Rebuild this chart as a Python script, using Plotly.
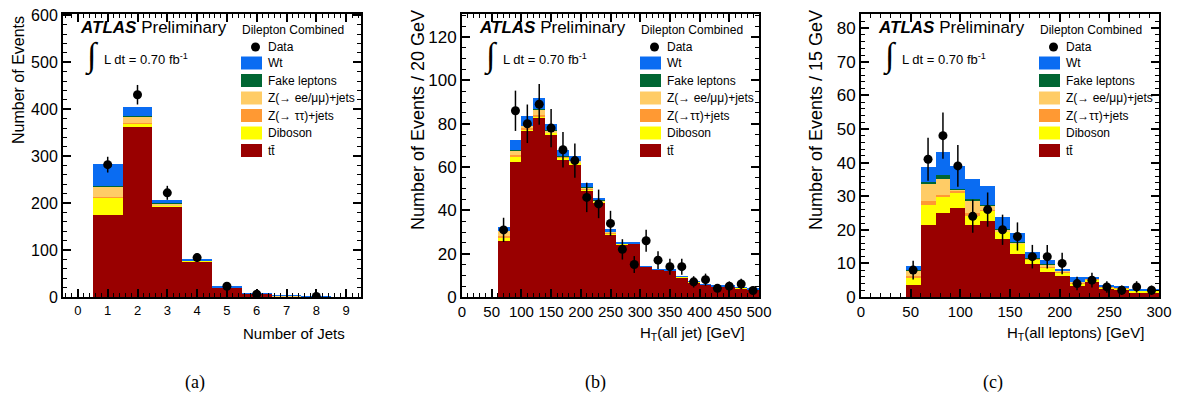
import plotly.graph_objects as go

# The page body has an 8px margin: the figure is sized so it fits the
# 1180x397 window starting at (8, 8); coordinates below are window pixels.
OFF = 8
W, H = 1180 - OFF, 397 - OFF

# ---------------- data ----------------
# Panel (a): number of jets
a_centers = [1, 2, 3, 4, 5, 6, 7, 8, 9]
a_tt   = [174, 362, 193, 76, 20, 7, 2, 0.8, 0]
a_dib  = [37, 7, 2, 1, 0.5, 0.2, 0.1, 0, 0]
a_ztt  = [3, 2, 1, 0.5, 0.1, 0.1, 0, 0, 0]
a_zee  = [22, 13, 3, 1, 0.2, 0.1, 0.1, 0, 0]
a_fake = [1, 1, 0.5, 0.2, 0.1, 0, 0, 0, 0]
a_wt   = [47, 20, 6.5, 1.3, 0.6, 0.3, 0.1, 0.1, 0]
a_data = [282, 431, 222, 84, 23, 6, None, 1, None]
a_err  = [16.8, 20.8, 14.9, 9.2, 4.8, 2.4, 0, 1.0, 0]

# Panel (b): HT(all jet), 20 GeV bins 60-500
b_centers = [70, 90, 110, 130, 150, 170, 190, 210, 230, 250, 270, 290,
             310, 330, 350, 370, 390, 410, 430, 450, 470, 490]
b_tt   = [26, 62.5, 76.7, 82.8, 75.1, 63.7, 61.4, 49.1, 43.7, 29, 24.3, 24.5,
          14.0, 12.6, 12.3, 9.2, 6.9, 5.8, 4.9, 4.9, 4.1, 3.6]
b_dib  = [1.4, 2.3, 0.7, 0.6, 0.7, 0.8, 0.5, 0.6, 0.3, 0.4, 0.2, 0.1,
          0.1, 0.1, 0.1, 0.1, 0.1, 0.1, 0.1, 0.1, 0.1, 0.05]
b_ztt  = [0.6, 0.6, 0.5, 0.6, 0.4, 0.2, 0.3, 0.3, 0.2, 0.2, 0.1, 0.1,
          0, 0, 0, 0, 0, 0, 0, 0, 0, 0]
b_zee  = [2.5, 2.2, 1.1, 2.4, 0.8, 0.3, 0.7, 0.7, 0.5, 0.6, 0.2, 0.2,
          0.1, 0.1, 0.05, 0.05, 0.05, 0.05, 0.05, 0.05, 0.05, 0.03]
b_fake = [0.2, 0.3, 0.2, 0.2, 0.1, 0.1, 0.1, 0.1, 0.1, 0.1, 0, 0,
          0, 0, 0, 0, 0, 0, 0, 0, 0, 0]
b_wt   = [1.8, 4.6, 4.4, 5.2, 2.9, 2.8, 2.1, 1.8, 0.8, 0.9, 0.2, 0.6,
          0.1, 0.1, 0.05, 0.05, 0.05, 0.05, 0.05, 0.05, 0.05, 0.02]
b_data = [31, 86, 80, 89, 78, 68, 63, 46, 43, 34, 22, 15, 26, 17, 14, 14,
          7, 8, 4, 5, 6, 3]
b_err  = [5.6, 9.3, 8.9, 9.4, 8.8, 8.2, 7.9, 6.8, 6.6, 5.8, 4.7, 3.9, 5.1,
          4.1, 3.7, 3.7, 2.6, 2.8, 2.0, 2.2, 2.4, 1.7]

# Panel (c): HT(all leptons), 15 GeV bins 45-300
c_centers = [52.5, 67.5, 82.5, 97.5, 112.5, 127.5, 142.5, 157.5, 172.5,
             187.5, 202.5, 217.5, 232.5, 247.5, 262.5, 277.5, 292.5]
c_tt   = [3.6, 21.4, 24.9, 26.4, 21.4, 22.6, 17.2, 12.8, 9.8, 7.5, 6.25,
          3.4, 4.6, 2.4, 2.1, 1.3, 1.1]
c_dib  = [2.0, 6.0, 5.0, 4.6, 2.8, 3.1, 2.2, 3.0, 1.4, 1.3, 1.15, 0.6,
          0.7, 0.5, 0.5, 0.5, 0.7]
c_ztt  = [0.65, 1.3, 0.4, 0.6, 0.7, 0.3, 0.2, 0.2, 0.2, 0.2, 0.1, 0.2,
          0.1, 0.1, 0.1, 0, 0]
c_zee  = [1.75, 5.1, 4.7, 0.4, 3.6, 1.2, 0.5, 0.3, 0.2, 0.8, 0.2, 0.4,
          0.1, 0.1, 0.1, 0.1, 0.1]
c_fake = [0.1, 0.5, 1.3, 0.1, 0.6, 0.1, 0.1, 0.1, 0.1, 0.1, 0, 0, 0, 0,
          0, 0, 0]
c_wt   = [1.1, 4.5, 6.7, 6.9, 6.1, 5.8, 3.7, 2.6, 1.8, 1.1, 0.6, 1.3, 0.4,
          0.3, 0.2, 0.3, 0.2]
c_data = [8, 41, 48, 39, 24, 26, 20, 18, 12, 12, 10, 4, 5, 3, 2, 3, 2]
c_err  = [2.8, 6.4, 6.9, 6.2, 4.9, 5.1, 4.5, 4.2, 3.5, 3.5, 3.2, 2.0, 2.2,
          1.7, 1.4, 1.7, 1.4]

COLORS = {
    "tt": "#990000", "dib": "#ffff00", "ztt": "#ff9933",
    "zee": "#ffcc66", "fake": "#006633", "wt": "#0a6cf2",
}

FONT = "Liberation Sans, Arial, Helvetica, sans-serif"

# ------------- layout geometry (window pixels) -------------
frames = [(63, 361), (462, 759), (861, 1159)]
y_top, y_bot = 14, 297


def px(x):
    return (x - OFF) / W


def py(y):
    return 1 - (y - OFF) / H


fig = go.Figure()

panels = [
    dict(c=a_centers, w=1, tt=a_tt, dib=a_dib, ztt=a_ztt, zee=a_zee,
         fake=a_fake, wt=a_wt, data=a_data, err=a_err),
    dict(c=b_centers, w=20, tt=b_tt, dib=b_dib, ztt=b_ztt, zee=b_zee,
         fake=b_fake, wt=b_wt, data=b_data, err=b_err),
    dict(c=c_centers, w=15, tt=c_tt, dib=c_dib, ztt=c_ztt, zee=c_zee,
         fake=c_fake, wt=c_wt, data=c_data, err=c_err),
]

for i, p in enumerate(panels):
    xa = "x" if i == 0 else f"x{i+1}"
    ya = "y" if i == 0 else f"y{i+1}"
    for key in ["tt", "dib", "ztt", "zee", "fake", "wt"]:
        fig.add_trace(go.Bar(
            x=p["c"], y=p[key], width=p["w"], marker_color=COLORS[key],
            marker_line_width=0, xaxis=xa, yaxis=ya, showlegend=False,
            hoverinfo="skip"))
    fig.add_trace(go.Scatter(
        x=p["c"], y=p["data"], mode="markers", xaxis=xa, yaxis=ya,
        marker=dict(color="black", size=9),
        error_y=dict(type="data", array=p["err"], width=0, thickness=1.5,
                     color="black"),
        showlegend=False))

axis_common = dict(showgrid=False, zeroline=False, showline=True,
                   linecolor="black", linewidth=2, mirror="allticks",
                   ticks="inside", ticklen=8, tickwidth=1.5,
                   tickcolor="black", automargin=False,
                   ticklabeloverflow="allow")

x_specs = [
    dict(range=[-0.5, 9.5], tick0=0, dtick=1, minor_dtick=0.2, fsize=13),
    dict(range=[0, 500], tick0=0, dtick=50, minor_dtick=10, fsize=15),
    dict(range=[0, 300], tick0=0, dtick=50, minor_dtick=10, fsize=15),
]
y_specs = [
    dict(range=[0, 603], dtick=100, minor_dtick=20, fsize=16),
    dict(range=[0, 130.7], dtick=20, minor_dtick=5, fsize=17),
    dict(range=[0, 84.2], dtick=10, minor_dtick=2, fsize=17),
]

layout_axes = {}
for i in range(3):
    xs, ys = x_specs[i], y_specs[i]
    xn = "xaxis" if i == 0 else f"xaxis{i+1}"
    yn = "yaxis" if i == 0 else f"yaxis{i+1}"
    xa = "x" if i == 0 else f"x{i+1}"
    ya = "y" if i == 0 else f"y{i+1}"
    layout_axes[xn] = dict(
        axis_common, domain=[px(frames[i][0]), px(frames[i][1])],
        range=xs["range"], tick0=xs["tick0"], dtick=xs["dtick"],
        anchor=ya,
        minor=dict(dtick=xs["minor_dtick"], ticks="inside", ticklen=4,
                   tickcolor="black", tickwidth=1),
        tickfont=dict(family=FONT, size=xs["fsize"], color="black"))
    layout_axes[yn] = dict(
        axis_common, domain=[py(y_bot), py(y_top)], range=ys["range"],
        tick0=0, dtick=ys["dtick"], anchor=xa,
        minor=dict(dtick=ys["minor_dtick"], ticks="inside", ticklen=4,
                   tickcolor="black", tickwidth=1),
        tickfont=dict(family=FONT, size=ys["fsize"], color="black"))

annotations = []
shapes = []

ytitles = ["Number of Events", "Number of Events / 20 GeV",
           "Number of Events / 15 GeV"]
ytitle_x = [18, 418, 816]
ytitle_top = [14, 8, 8]
ytitle_size = [16, 18, 18]
xtitles = ["Number of Jets", "H<sub>T</sub>(all jet) [GeV]",
           "H<sub>T</sub>(all leptons) [GeV]"]
xtitle_right = [347, 747, 1146]
captions = ["(a)", "(b)", "(c)"]
caption_x = [195, 595, 993]

for i in range(3):
    annotations.append(dict(
        text=ytitles[i], x=px(ytitle_x[i]), y=py(ytitle_top[i]),
        xref="paper", yref="paper", xanchor="center", yanchor="top",
        textangle=-90, showarrow=False,
        font=dict(family=FONT, size=ytitle_size[i], color="black")))
    annotations.append(dict(
        text=xtitles[i], x=px(xtitle_right[i]), y=py(333), xref="paper",
        yref="paper", xanchor="right", yanchor="middle", showarrow=False,
        font=dict(family=FONT, size=15, color="black")))
    annotations.append(dict(
        text=captions[i], x=px(caption_x[i]), y=py(382), xref="paper",
        yref="paper", xanchor="center", yanchor="middle", showarrow=False,
        font=dict(family="Liberation Serif, Times New Roman, serif",
                  size=18, color="black")))

    fl = frames[i][0]
    # ATLAS Preliminary
    annotations.append(dict(
        text="<b><i>ATLAS</i></b> Preliminary", x=px(fl + 15), y=py(27),
        xref="paper", yref="paper", xanchor="left", yanchor="middle",
        showarrow=False, font=dict(family=FONT, size=17, color="black")))
    # luminosity
    annotations.append(dict(
        text="\u222b", x=px(fl + 29), y=py(56), xref="paper", yref="paper",
        xanchor="center", yanchor="middle", showarrow=False,
        font=dict(family="Liberation Serif, serif", size=34,
                  color="black")))
    annotations.append(dict(
        text="L dt = 0.70 fb<sup>-1</sup>", x=px(fl + 39), y=py(59),
        xref="paper", yref="paper", xanchor="left", yanchor="middle",
        showarrow=False, font=dict(family=FONT, size=13, color="black")))
    # legend header
    annotations.append(dict(
        text="Dilepton Combined", x=px(fl + 177), y=py(30), xref="paper",
        yref="paper", xanchor="left", yanchor="middle", showarrow=False,
        font=dict(family=FONT, size=12, color="black")))
    # data entry
    shapes.append(dict(type="circle", xref="paper", yref="paper",
                       x0=px(fl + 188), x1=px(fl + 197), y0=py(51.5),
                       y1=py(42.5), fillcolor="black", line_width=0))
    annotations.append(dict(
        text="Data", x=px(fl + 203), y=py(47), xref="paper", yref="paper",
        xanchor="left", yanchor="middle", showarrow=False,
        font=dict(family=FONT, size=12, color="black")))
    ztt_label = "Z(\u2192 \u03c4\u03c4)+jets" if i == 0 else "Z(\u2192\u03c4\u03c4)+jets"
    entries = [("wt", "Wt"), ("fake", "Fake leptons"),
               ("zee", "Z(\u2192 ee/\u03bc\u03bc)+jets"), ("ztt", ztt_label),
               ("dib", "Diboson"), ("tt", "tt\u0304")]
    for k, (key, lab) in enumerate(entries):
        yc = 63 + 17.5 * k
        shapes.append(dict(type="rect", xref="paper", yref="paper",
                           x0=px(fl + 178), x1=px(fl + 199),
                           y0=py(yc + 6.5), y1=py(yc - 6.5),
                           fillcolor=COLORS[key], line_width=0))
        annotations.append(dict(
            text=lab, x=px(fl + 203), y=py(yc), xref="paper", yref="paper",
            xanchor="left", yanchor="middle", showarrow=False,
            font=dict(family=FONT, size=12, color="black")))

fig.update_layout(
    template="none",
    width=W, height=H, margin=dict(l=0, r=0, t=0, b=0, autoexpand=False),
    paper_bgcolor="white", plot_bgcolor="white",
    barmode="stack", bargap=0, showlegend=False,
    annotations=annotations, shapes=shapes, **layout_axes)

fig.write_html("out.html")
